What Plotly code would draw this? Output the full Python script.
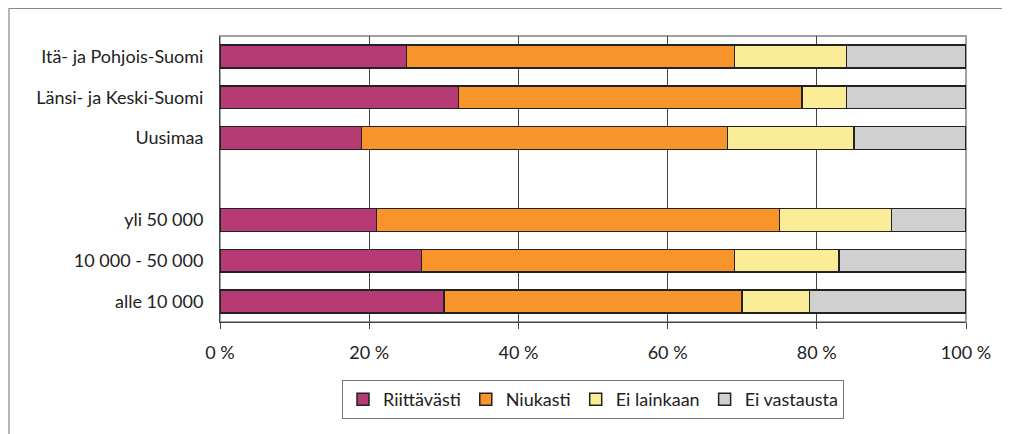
import plotly.graph_objects as go

categories = ["Itä- ja Pohjois-Suomi", "Länsi- ja Keski-Suomi", "Uusimaa", " ",
              "yli 50 000", "10 000 - 50 000", "alle 10 000"]
series_names = ["Riittävästi", "Niukasti", "Ei lainkaan", "Ei vastausta"]
riittavasti = [25, 32, 19, None, 21, 27, 30]
niukasti = [44, 46, 49, None, 54, 42, 40]
ei_lainkaan = [15, 6, 17, None, 15, 14, 9]
ei_vastausta = [16, 16, 15, None, 10, 17, 21]
tick_vals = [0, 20, 40, 60, 80, 100]
tick_text = ["0 %", "20 %", "40 %", "60 %", "80 %", "100 %"]

colors = ["#B63A73", "#F7952A", "#FBEC98", "#D0D0D0"]
values = [riittavasti, niukasti, ei_lainkaan, ei_vastausta]

FONT = "Lato"
fig = go.Figure()
for name, vals, col in zip(series_names, values, colors):
    fig.add_trace(go.Bar(
        y=categories, x=vals, name=name, orientation="h",
        marker=dict(color=col, line=dict(color="#222222", width=1.5)),
        hoverinfo="x+y+name",
    ))

# page body has an 8px margin, so figure coordinates = screen - 8
OFF = 8
W, H = 1010 - OFF, 434 - OFF
L, T = 220 - OFF, 36 - OFF
R = W - (966 - OFF)
B = H - (322 - OFF)
pw, ph = W - L - R, H - T - B

def px_x(px):
    return (px - OFF - L) / pw

def px_y(py):
    return (H - B - (py - OFF)) / ph

fig.update_layout(
    width=W, height=H,
    margin=dict(l=L, r=R, t=T, b=B, autoexpand=False),
    barmode="stack", bargap=0.44,
    paper_bgcolor="white", plot_bgcolor="white",
    font=dict(family=FONT, size=18, color="#222222"),
    showlegend=True,
    legend=dict(orientation="h", x=0.5, xanchor="center", y=px_y(380), yanchor="top",
                bordercolor="#777777", borderwidth=1, font=dict(size=18, family=FONT),
                itemwidth=30, traceorder="normal"),
    xaxis=dict(range=[0, 100], tickvals=tick_vals, ticktext=tick_text,
               showgrid=True, gridcolor="#444444", gridwidth=1,
               showline=True, linecolor="#444444", linewidth=1,
               ticks="outside", ticklen=6, tickcolor="#444444",
               ticklabelstandoff=8, automargin=False,
               zeroline=False, fixedrange=True),
    yaxis=dict(autorange="reversed", showline=True, linecolor="#444444", linewidth=1,
               ticks="", ticklabelstandoff=12, automargin=False,
               showgrid=False, fixedrange=True),
    shapes=[
        dict(type="rect", xref="paper", yref="paper", x0=0, x1=1, y0=0, y1=1,
             line=dict(color="#A0A0A0", width=2), layer="below"),
        dict(type="rect", xref="paper", yref="paper", x0=px_x(9), x1=px_x(1004),
             y0=px_y(445), y1=px_y(8.5), line=dict(color="#888888", width=1.2), layer="below"),
    ],
)

fig.write_html("out.html")
